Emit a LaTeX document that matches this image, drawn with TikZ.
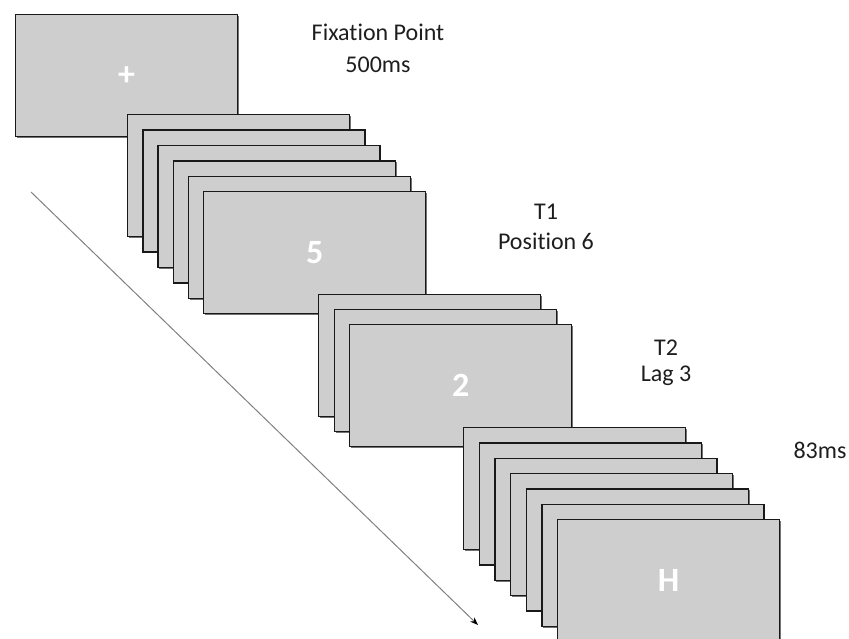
\documentclass[tikz,border=0pt]{standalone}
\usepackage{fontspec}
\setmainfont{Carlito}[Ligatures=NoCommon]
\usetikzlibrary{arrows.meta,shadows}
\definecolor{slidefill}{RGB}{207,206,207}
\definecolor{slideedge}{RGB}{25,25,25}
\definecolor{captext}{RGB}{30,30,30}
\begin{document}
\begin{tikzpicture}[x=1pt,y=-1pt,
  slide/.style={draw=slideedge, line width=1.4pt, fill=slidefill,
    minimum width=222pt, minimum height=122pt, inner sep=0pt,
    anchor=north west, text=white,
    font=\fontsize{34}{40}\selectfont\bfseries,
    drop shadow={shadow xshift=1.3pt, shadow yshift=-1.3pt, opacity=0.55, fill=black}},
  caption/.style={font=\fontsize{24}{30}\selectfont, anchor=base, text=captext},
  timeline/.style={draw=gray, line width=1pt,
    -{Stealth[length=8pt,width=6pt,black]}}]
\useasboundingbox (0,0) rectangle (849,639);

% time axis
\coordinate (tstart) at (31,192);
\coordinate (tend) at (478,625);
\draw[timeline] (tstart) -- (tend);

% fixation screen
\node[slide] (fixscreen) at (15,14) {+};

% stream up to T1 (six frames)
\foreach \i in {0,...,4}
  \node[slide] (ta\i) at (127+15.2*\i,114+15.4*\i) {};
\node[slide] (tone) at (203,191) {5};

% stream up to T2 (three frames)
\foreach \i in {0,...,1}
  \node[slide] (tb\i) at (318+15.5*\i,294+15*\i) {};
\node[slide] (ttwo) at (349,324) {2};

% trailing stream (seven frames)
\foreach \i in {0,...,5}
  \node[slide] (tc\i) at (463+15.67*\i,427+15.33*\i) {};
\node[slide] (tlast) at (557,519) {H};

% captions
\node[caption] (fixa) at (378,41) {Fixation Point};
\node[caption] (fixb) at (378,73) {500ms};
\node[caption] (t1a) at (546,220) {T1};
\node[caption] (t1b) at (546,250) {Position 6};
\node[caption] (t2a) at (666,355) {T2};
\node[caption] (t2b) at (666,381) {Lag 3};
\node[caption] (rate) at (820,458) {83ms};
\end{tikzpicture}
\end{document}
